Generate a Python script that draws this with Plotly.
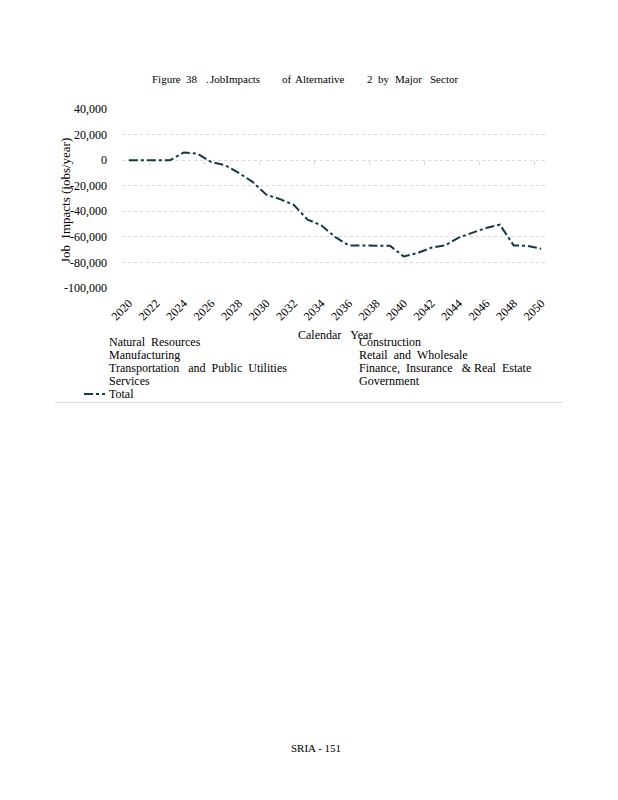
import plotly.graph_objects as go

years = list(range(2020, 2051))
total = [0, 0, 0, 0, 6000, 5000, -1500, -4000, -10000, -17000, -27000, -30500,
         -35000, -46500, -51000, -60000, -66700, -66700, -66700, -67000, -75300,
         -72700, -68500, -66700, -60600, -57000, -53000, -50500, -66700, -67000, -69300]
y_ticks = [40000, 20000, 0, -20000, -40000, -60000, -80000, -100000]
y_tick_text = ["40,000", "20,000", "0", "-20,000", "-40,000", "-60,000", "-80,000", "-100,000"]
x_ticks = list(range(2020, 2051, 2))
legend_left = ["Natural  Resources", "Manufacturing", "Transportation   and  Public  Utilities", "Services"]
legend_right = ["Construction", "Retail  and  Wholesale", "Finance,  Insurance   & Real  Estate", "Government"]
title_words = ["Figure", "38", ".", "JobImpacts", "of", "Alternative", "2", "by", "Major", "Sector"]
title_word_x = [150, 184, 204, 208, 280, 293, 365, 376, 393, 428]

# page body has an 8px margin; figure sized so it fills the window exactly
OFF = 8
WIN_W, WIN_H = 618, 800
L, R, T, B = 122, 548, 109, 288   # plot area in window pixels
FONT = "Liberation Serif, Times New Roman, serif"
LINE_COLOR = "#0f3a48"


def px(x):
    return (x - L) / (R - L)


def py(y):
    return (B - y) / (B - T)


def nb(s):
    return s.replace(" ", "\u00a0")


fig = go.Figure()
fig.add_trace(go.Scatter(
    x=years, y=total, mode="lines", name="Total",
    line=dict(color=LINE_COLOR, width=2, dash="dashdot"),
    showlegend=False,
))
fig.add_trace(go.Scatter(x=[2020], y=[None], xaxis="x2", mode="lines",
                         showlegend=False, hoverinfo="skip"))

fig.update_layout(
    width=WIN_W - OFF, height=WIN_H - OFF,
    margin=dict(l=L - OFF, r=WIN_W - R, t=T - OFF, b=WIN_H - B, pad=0),
    paper_bgcolor="white", plot_bgcolor="white",
    font=dict(family=FONT, size=12, color="black"),
    showlegend=False,
    xaxis=dict(
        range=[2019.5, 2050.5], tickvals=x_ticks, ticktext=[str(v) for v in x_ticks],
        tickangle=-45, showgrid=False, zeroline=False, showline=False, ticks="",
        ticklabelstandoff=5,
        tickfont=dict(family=FONT, size=12, color="black"),
    ),
    xaxis2=dict(
        range=[2019.5, 2050.5], overlaying="x", anchor="free",
        position=100000 / 140000, showgrid=False, zeroline=False,
        showline=False, showticklabels=False, ticks="outside", ticklen=4,
        tickcolor="#d9d9d9", tickwidth=1,
        tickvals=[2021.5, 2025.5, 2029.5, 2033.5, 2037.5, 2041.5, 2045.5, 2049.5],
    ),
    yaxis=dict(
        range=[-100000, 40000], tickvals=y_ticks, ticktext=y_tick_text,
        showgrid=True, gridcolor="#d9d9d9", griddash="dot", gridwidth=1,
        zeroline=False, showline=False, ticks="", ticklabelstandoff=14,
        tickfont=dict(family=FONT, size=12, color="black"),
    ),
)

ann = []
for w, x in zip(title_words, title_word_x):
    ann.append(dict(text=w, x=px(x), y=py(79), xref="paper", yref="paper",
                    showarrow=False, xanchor="left", yanchor="middle",
                    font=dict(family=FONT, size=11, color="black")))
ann.append(dict(text=nb("Job  Impacts (jobs/year)"), x=px(65), y=py(201), xref="paper", yref="paper",
                showarrow=False, textangle=-90, xanchor="center", yanchor="middle",
                font=dict(family=FONT, size=13, color="black")))
ann.append(dict(text=nb("Calendar   Year"), x=px(335), y=py(335), xref="paper", yref="paper",
                showarrow=False, xanchor="center", yanchor="middle",
                font=dict(family=FONT, size=12, color="black")))
row_y = [342, 355, 368, 381]
for i, t in enumerate(legend_left):
    ann.append(dict(text=nb(t), x=px(107), y=py(row_y[i]), xref="paper", yref="paper",
                    showarrow=False, xanchor="left", yanchor="middle",
                    font=dict(family=FONT, size=12, color="black")))
for i, t in enumerate(legend_right):
    ann.append(dict(text=nb(t), x=px(357), y=py(row_y[i]), xref="paper", yref="paper",
                    showarrow=False, xanchor="left", yanchor="middle",
                    font=dict(family=FONT, size=12, color="black")))
ann.append(dict(text="Total", x=px(107), y=py(394), xref="paper", yref="paper",
                showarrow=False, xanchor="left", yanchor="middle",
                font=dict(family=FONT, size=12, color="black")))
ann.append(dict(text="SRIA - 151", x=px(316), y=py(748), xref="paper", yref="paper",
                showarrow=False, xanchor="center", yanchor="middle",
                font=dict(family=FONT, size=11, color="black")))
fig.update_layout(annotations=ann)

fig.add_shape(type="line", xref="paper", yref="paper", x0=px(84), x1=px(105),
              y0=py(394), y1=py(394), line=dict(color=LINE_COLOR, width=2, dash="dashdot"))
fig.add_shape(type="line", xref="paper", yref="paper", x0=px(55), x1=px(562),
              y0=py(402.5), y1=py(402.5), line=dict(color="#d9d9d9", width=1))

fig.write_html("out.html")
